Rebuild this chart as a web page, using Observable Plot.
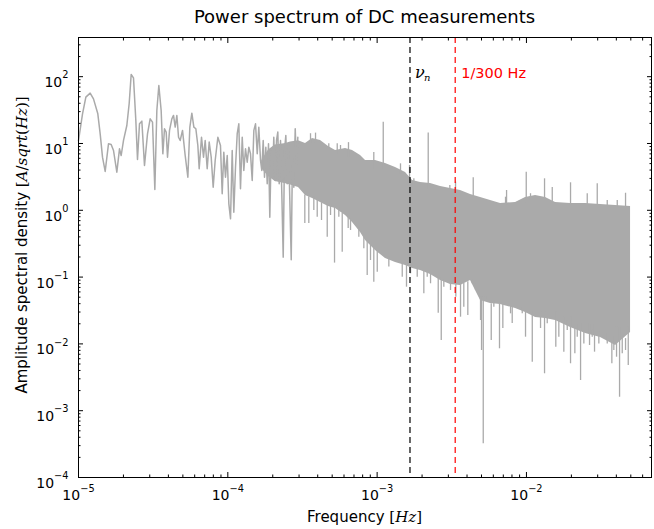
<!DOCTYPE html>
<html><head><meta charset="utf-8">
<script src="https://cdn.jsdelivr.net/npm/d3@7"></script>
<script src="https://cdn.jsdelivr.net/npm/@observablehq/plot@0.6"></script>
<style>
body{margin:0;background:#fff;font-family:"DejaVu Sans",sans-serif;}
#title{width:573px;margin-left:78px;height:30px;box-sizing:border-box;padding-top:3px;line-height:27px;text-align:center;font-size:18px;color:#000;}
#chart svg{display:block;}
</style></head><body>
<div id="title">Power spectrum of DC measurements</div>
<div id="chart"></div>
<script>
// ---- data ----
const lineFreq = [1.000e-5,1.064e-5,1.120e-5,1.197e-5,1.260e-5,1.347e-5,1.397e-5,1.448e-5,1.509e-5,1.588e-5,
 1.655e-5,1.716e-5,1.806e-5,1.882e-5,1.931e-5,2.002e-5,2.107e-5,2.184e-5,2.253e-5,2.335e-5,
 2.421e-5,2.484e-5,2.562e-5,2.656e-5,2.767e-5,2.898e-5,3.020e-5,3.131e-5,3.246e-5,3.347e-5,
 3.452e-5,3.578e-5,3.672e-5,3.767e-5,3.866e-5,3.946e-5,4.070e-5,4.219e-5,4.329e-5,4.443e-5,
 4.558e-5,4.677e-5,4.797e-5,4.973e-5,5.182e-5,5.400e-5,5.569e-5,5.743e-5,5.924e-5,6.108e-5,
 6.300e-5,6.431e-5,6.666e-5,6.876e-5,7.055e-5,7.276e-5,7.504e-5,7.739e-5,7.980e-5,8.230e-5,
 8.577e-5,8.93e-5,9.17e-5,9.40e-5,9.65e-5,9.91e-5,1.016e-4,1.043e-4,1.070e-4,1.097e-4,
 1.126e-4,1.156e-4,1.185e-4,1.216e-4,1.249e-4,1.280e-4,1.314e-4,1.349e-4,1.383e-4,1.419e-4,
 1.457e-4,1.494e-4,1.533e-4,1.574e-4,1.613e-4,1.656e-4,1.689e-4,1.726e-4,1.761e-4,1.797e-4,
 1.836e-4,1.873e-4,1.911e-4,1.953e-4,1.993e-4,2.032e-4,2.077e-4,2.119e-4,2.162e-4,2.209e-4,
 2.254e-4,2.300e-4,2.350e-4,2.398e-4,2.447e-4,2.500e-4,2.551e-4,2.602e-4,2.659e-4,2.713e-4,
 2.768e-4,2.828e-4,2.886e-4,2.944e-4];
const lineAmp = [11,27.8,49.4,56.7,46.6,27.8,13.9,6.24,3.81,9.89,
 9.66,7.85,3.72,8.32,6.61,11.1,18.6,39.3,108,96.2,
 22.1,5.76,19.7,21.6,4.69,13.9,23.4,20.9,2.05,31.2,
 73.8,31.2,7.0,16.6,14.8,6.24,15.7,23.4,26.3,17.6,
 26.3,12.4,11.1,15.7,6.61,3.13,17.6,28.4,17.6,16.6,
 9.33,4.18,12.4,6.24,11.1,4.18,10.5,6.24,2.22,5.57,
 12.4,9.33,1.77,7.41,3.13,6.61,1.25,0.746,7.85,0.937,
 4.42,14.0,19.7,2.10,12.4,3.94,8.34,5.25,8.81,7.01,
 2.79,15.7,19.7,7.01,17.5,5.57,3.94,11.1,3.13,8.81,
 2.49,9.9,0.788,7.85,3.13,12.4,2.79,11.1,14.8,2.49,
 11.1,1.77,0.199,7.85,13.2,2.49,9.9,1.40,0.182,7.85,
 2.22,16.6,4.42,12.4];

const bandFreq = [1.689e-4,1.873e-4,2.077e-4,2.447e-4,2.630e-4,2.975e-4,3.314e-4,3.693e-4,4.177e-4,4.725e-4,
 5.265e-4,6.142e-4,6.843e-4,7.742e-4,8.362e-4,9.756e-4,1.138e-3,1.328e-3,1.550e-3,1.727e-3,
 1.953e-3,2.279e-3,2.659e-3,3.102e-3,3.619e-3,4.222e-3,4.927e-3,5.748e-3,6.706e-3,8.453e-3,
 9.862e-3,1.151e-2,1.343e-2,1.566e-2,1.974e-2,2.488e-2,3.135e-2,3.952e-2,4.980e-2];
const bandHigh = [5.5,8,9.5,10,10.5,11,10.0,11.9,11.1,9.02,
 7.85,8.41,7.85,6.61,5.57,5.57,5.02,4.37,3.68,2.79,
 2.61,2.52,2.27,2.12,1.98,1.72,1.55,1.40,1.26,1.31,
 1.55,1.67,1.55,1.31,1.26,1.26,1.22,1.18,1.14];
const bandLow = [4.2,3.2,2.7,2.5,2.4,2.2,1.67,1.50,1.31,1.14,
 1.06,0.836,0.656,0.465,0.353,0.250,0.190,0.165,0.149,0.135,
 0.126,0.109,0.0889,0.0775,0.0749,0.0889,0.0447,0.0403,0.0389,0.0339,
 0.0295,0.0248,0.0240,0.0224,0.0176,0.0143,0.0125,0.00946,0.0148];

// downward spikes: frequency, tip, start inside the band
const downFreqA = [3.279e-4,3.487e-4,4.242e-4,4.633e-4,5.185e-4,5.837e-4,6.40e-4,8.58e-4,9.50e-4,1.002e-3,
 1.573e-3,2.055e-3,2.566e-3,2.688e-3,3.366e-3,3.619e-3,4.05e-3,5.004e-3,5.137e-3,5.81e-3,
 6.60e-3,6.95e-3,8.03e-3,9.86e-3,1.094e-2,1.243e-2,1.322e-2,1.573e-2,1.780e-2,1.974e-2,
 2.110e-2,2.304e-2,2.646e-2,2.858e-2,3.733e-2,4.013e-2,4.204e-2,4.807e-2];
const downTipA = [0.634,0.634,0.703,0.396,0.162,0.236,0.534,0.106,0.0839,0.118,
 0.0706,0.0562,0.0288,0.0112,0.050,0.0251,0.0266,0.00796,0.000319,0.0112,
 0.00845,0.0170,0.0202,0.0126,0.00532,0.0170,0.00357,0.00893,0.00752,0.00504,
 0.00711,0.00283,0.00946,0.00752,0.00504,0.00632,0.00159,0.00475];
const downBaseA = [1.7,1.6,1.3,1.2,1.1,0.9,0.8,0.35,0.28,0.26,
 0.16,0.13,0.1,0.1,0.08,0.08,0.085,0.05,0.05,0.04,
 0.04,0.04,0.035,0.03,0.03,0.03,0.03,0.03,0.025,0.025,
 0.02,0.02,0.02,0.02,0.018,0.018,0.018,0.018];
const downFreqB = [3.767e-4,3.970e-4,4.875e-4,5.540e-4,6.636e-4,7.542e-4,8.146e-4,9.03e-4,1.198e-3,1.473e-3,
 1.674e-3,1.856e-3,2.165e-3,2.279e-3,2.797e-3,3.102e-3,3.807e-3,4.335e-3,4.561e-3,4.927e-3,
 5.322e-3,6.049e-3,7.826e-3,9.374e-3,1.378e-2,1.648e-2,1.876e-2,2.189e-2,2.424e-2,2.758e-2,
 3.055e-2,3.477e-2,3.849e-2,4.382e-2,4.610e-2];
const downTipB = [0.99,0.788,0.836,0.788,0.499,0.395,0.265,0.177,0.141,0.0998,
 0.112,0.0998,0.0998,0.0794,0.0706,0.063,0.0355,0.0794,0.063,0.0224,
 0.0447,0.0355,0.0282,0.0282,0.0200,0.0126,0.0159,0.0126,0.0100,0.0126,
 0.0100,0.0100,0.00796,0.00711,0.00796];
const downBaseB = [1.6,1.5,1.2,1.1,0.75,0.55,0.4,0.3,0.2,0.17,
 0.15,0.14,0.12,0.12,0.09,0.08,0.08,0.09,0.08,0.05,
 0.05,0.045,0.04,0.035,0.028,0.025,0.022,0.02,0.018,0.016,
 0.015,0.014,0.013,0.012,0.012];

// upward spikes: frequency, tip, start inside the band
const upFreq = [6.43e-4,9.50e-4,1.099e-3,2.199e-3,4.402e-3,7.36e-3,9.97e-3,1.322e-2,1.489e-2,1.974e-2,2.98e-2,4.610e-2,
 3.868e-4,1.434e-3,1.648e-3,1.762e-3,3.069e-3,3.351e-3,7.244e-3,1.065e-2,2.554e-2,3.477e-2,4.057e-2,
 3.580e-4,4.746e-4,5.405e-4,5.685e-4];
const upTip = [10.3,7.33,20.8,14.3,3.07,1.98,3.72,2.96,2.19,2.58,2.49,1.80,
 14.3,4.96,4.69,2.96,2.35,2.64,1.57,1.77,1.77,1.40,1.40,
 14.0,9.9,9.9,9.33];
const upBase = [6,4,4,2,1.5,1.2,1.3,1.4,1.3,1.2,1.2,1.1,
 10,3.5,3,2.5,2,1.9,1.2,1.4,1.2,1.15,1.1,
 10,8,7,7];

const nuN = 1.66e-3;        // ν_n
const f300 = 1 / 300;       // 1/300 Hz
const xTicks = [1e-5, 1e-4, 1e-3, 1e-2];
const yTicks = [1e-4, 1e-3, 1e-2, 1e-1, 1e0, 1e1, 1e2];
const xDomain = [1e-5, 0.0688];
const yDomain = [1e-4, 386];

// ---- tables ----
const lineData = lineFreq.map((f, i) => ({f, a: lineAmp[i]}));
const bandData = bandFreq.map((f, i) => ({f, lo: bandLow[i], hi: bandHigh[i]}));
const downFreq = downFreqA.concat(downFreqB), downTip = downTipA.concat(downTipB), downBase = downBaseA.concat(downBaseB);
const spikes = downFreq.map((f, i) => ({f, a: downTip[i], b: downBase[i]}))
  .concat(upFreq.map((f, i) => ({f, a: upBase[i], b: upTip[i]})));
const minor = (decades, max) => { const out = []; for (const e of decades) for (let k = 2; k < 10; k++) { const v = k * 10 ** e; if (v <= max) out.push(v); } return out; };
const xMinor = minor([-5, -4, -3, -2], xDomain[1]);
const yMinor = minor([-4, -3, -2, -1, 0, 1, 2], yDomain[1]);

const gray = "#aaaaaa";
const expFmt = d => String(Math.round(Math.log10(d))).replace("-", "\u2212");
const noLbl = () => "";

const chart = Plot.plot({
  width: 654, height: 499,
  marginTop: 7, marginBottom: 52, marginLeft: 78, marginRight: 3,
  x: {type: "log", domain: xDomain},
  y: {type: "log", domain: yDomain},
  style: {fontFamily: "DejaVu Sans", fontSize: "14px", background: "white", color: "black"},
  marks: [
    Plot.areaY(bandData, {x: "f", y1: "lo", y2: "hi", fill: gray}),
    Plot.ruleX(spikes, {x: "f", y1: "a", y2: "b", stroke: gray, strokeWidth: 1.3}),
    Plot.line(lineData, {x: "f", y: "a", stroke: gray, strokeWidth: 1.5}),
    Plot.ruleX([nuN], {stroke: "black", strokeWidth: 1.2, strokeDasharray: "6,4"}),
    Plot.ruleX([f300], {stroke: "red", strokeWidth: 1.2, strokeDasharray: "6,4"}),
    Plot.text([nuN], {x: d => d, frameAnchor: "top", dy: 40, dx: 5, text: () => "ν", fontFamily: "DejaVu Serif", fontStyle: "italic", fontSize: 16, textAnchor: "start", lineAnchor: "bottom", fill: "black"}),
    Plot.text([nuN], {x: d => d, frameAnchor: "top", dy: 43, dx: 14, text: () => "n", fontFamily: "DejaVu Serif", fontStyle: "italic", fontSize: 10, textAnchor: "start", lineAnchor: "bottom", fill: "black"}),
    Plot.text([f300], {x: d => d, frameAnchor: "top", dy: 40, dx: 6, text: () => "1/300 Hz", fontSize: 14.5, textAnchor: "start", lineAnchor: "bottom", fill: "red"}),
    Plot.frame({stroke: "black", strokeWidth: 1}),
    // ticks (inward)
    Plot.axisX(xTicks, {anchor: "bottom", tickSize: -5, tickFormat: noLbl, label: null}),
    Plot.axisX(xTicks, {anchor: "top", tickSize: -5, tickFormat: noLbl, label: null}),
    Plot.axisX(xMinor, {anchor: "bottom", tickSize: -2.5, tickFormat: noLbl, label: null}),
    Plot.axisX(xMinor, {anchor: "top", tickSize: -2.5, tickFormat: noLbl, label: null}),
    Plot.axisY(yTicks, {anchor: "left", tickSize: -5, tickFormat: noLbl, label: null}),
    Plot.axisY(yTicks, {anchor: "right", tickSize: -5, tickFormat: noLbl, label: null}),
    Plot.axisY(yMinor, {anchor: "left", tickSize: -2.5, tickFormat: noLbl, label: null}),
    Plot.axisY(yMinor, {anchor: "right", tickSize: -2.5, tickFormat: noLbl, label: null}),
    // tick labels
    Plot.axisX(xTicks, {anchor: "bottom", tickSize: 0, tickPadding: 13, tickFormat: expFmt, fontSize: 14, label: null}),
    Plot.axisY(yTicks, {anchor: "left", tickSize: 0, tickPadding: 10, dy: 6, tickFormat: expFmt, fontSize: 14, label: null})
  ]
});
document.getElementById("chart").appendChild(chart);

const svg = d3.select(chart);
// turn exponent labels into 10^e with superscripts
svg.selectAll("text").each(function () {
  const g = this.closest("g");
  const lab = g ? g.getAttribute("aria-label") : "";
  if (!lab || !/tick label/.test(lab)) return;
  const e = this.textContent;
  if (!e) return;
  const t = d3.select(this);
  t.text(null);
  t.append("tspan").text("10");
  t.append("tspan").attr("font-size", "0.7em").attr("dy", "-0.9em").text(e);
});

// axis titles
const xl = svg.append("text").attr("x", 364.5).attr("y", 492).attr("text-anchor", "middle")
  .attr("font-family", "DejaVu Sans").attr("font-size", 15).attr("fill", "black");
xl.append("tspan").text("Frequency ");
xl.append("tspan").attr("font-family", "DejaVu Serif").text("[");
xl.append("tspan").attr("font-family", "DejaVu Serif").attr("font-style", "italic").text("Hz");
xl.append("tspan").attr("font-family", "DejaVu Serif").text("]");

const yl = svg.append("text").attr("transform", "translate(27,215) rotate(-90)").attr("text-anchor", "middle")
  .attr("font-family", "DejaVu Sans").attr("font-size", 15).attr("fill", "black");
yl.append("tspan").text("Amplitude spectral density ");
const parts = [["[", false], ["A", true], ["/", false], ["sqrt", true], ["(", false], ["Hz", true], [")]", false]];
for (const [s, it] of parts) {
  const sp = yl.append("tspan").attr("font-family", "DejaVu Serif").text(s);
  if (it) sp.attr("font-style", "italic");
}
</script>
</body></html>
